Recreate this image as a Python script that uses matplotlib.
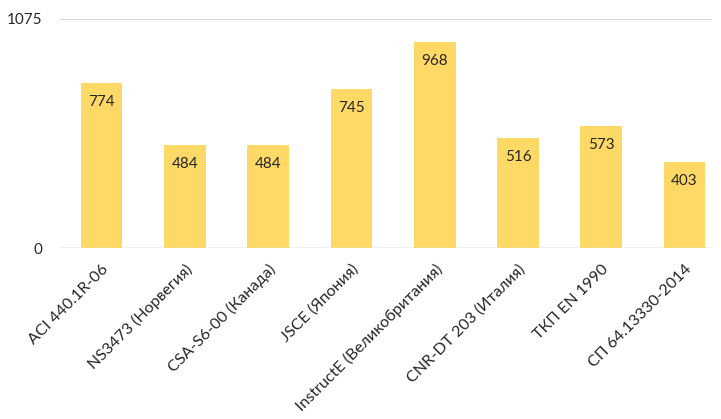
import matplotlib
matplotlib.use("Agg")
import matplotlib.pyplot as plt

categories = ["ACI 440.1R-06", "NS3473 (Норвегия)", "CSA-S6-00 (Канада)", "JSCE (Япония)",
              "InstructE (Великобритания)", "CNR-DT 203 (Италия)", "ТКП EN 1990", "СП 64.13330-2014"]
values = [774, 484, 484, 745, 968, 516, 573, 403]
yticks = [0, 1075]

plt.rcParams['font.family'] = ['Lato', 'DejaVu Sans']

fig = plt.figure(figsize=(7.21, 4.19), dpi=100)
W, H = 721, 419
ax = fig.add_axes([60 / W, 1 - 248 / H, (712 - 60) / W, (248 - 19) / H])

x = list(range(len(categories)))
ax.bar(x, values, width=0.5, color="#FFD966", zorder=2)
for xi, v in zip(x, values):
    ax.annotate(str(v), (xi, v), xytext=(0, -19), textcoords="offset pixels",
                ha="center", va="center", fontsize=11, color="#262626", zorder=3)

ax.set_ylim(0, 1075)
ax.set_xlim(-0.5, 7.33)
ax.set_yticks(yticks)
ax.set_yticklabels([str(t) for t in yticks], fontsize=11, color="#262626")
ax.yaxis.grid(True, color="#D9D9D9", linewidth=1, zorder=0)
ax.axhline(0, color="#D9D9D9", linewidth=1, zorder=3)
ax.tick_params(axis="both", length=0)
ax.tick_params(axis="y", pad=13)
for s in ax.spines.values():
    s.set_visible(False)
ax.set_xticks(x)
ax.set_xticklabels(categories, rotation=45, ha="right", rotation_mode="anchor",
                   fontsize=11.5, color="#262626")
ax.tick_params(axis="x", pad=10)

fig.savefig("out.png", dpi=100)
